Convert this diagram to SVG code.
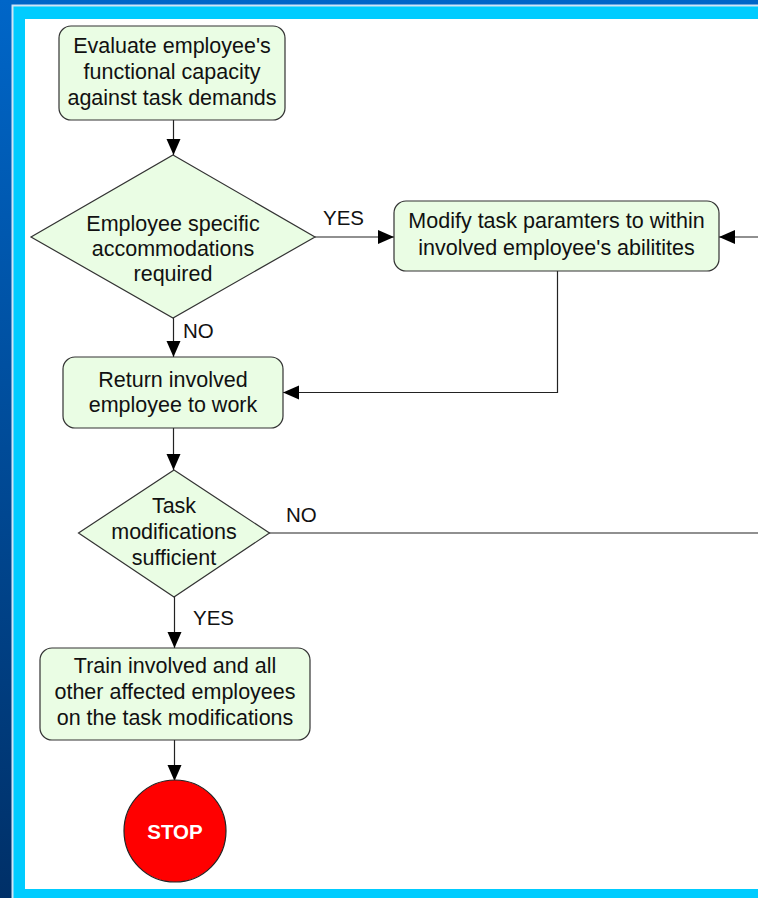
<svg xmlns="http://www.w3.org/2000/svg" width="758" height="898" viewBox="0 0 758 898">
  <defs>
    <linearGradient id="bandGrad" x1="0" y1="0" x2="0" y2="1">
      <stop offset="0" stop-color="#0066c8"/>
      <stop offset="1" stop-color="#003068"/>
    </linearGradient>
    <marker id="arrow" markerUnits="userSpaceOnUse" markerWidth="16" markerHeight="16" viewBox="0 0 16 16" refX="16" refY="8" orient="auto">
      <path d="M0,1 L16,8 L0,15 Z" fill="#000"/>
    </marker>
  </defs>
  <style>
    .box { fill: #eafde4; stroke: #333; stroke-width: 1.2; }
    .lbl { font-family: "Liberation Sans", Arial, sans-serif; font-size: 21.5px; fill: #111; text-anchor: middle; }
    .tag { font-family: "Liberation Sans", Arial, sans-serif; font-size: 20.5px; fill: #111; }
    .wire { fill: none; stroke: #222; stroke-width: 1.2; }
    .stop { fill: #ff0000; stroke: #222; stroke-width: 1.2; }
    .stoptxt { font-family: "Liberation Sans", Arial, sans-serif; font-size: 20.5px; font-weight: bold; fill: #fff; text-anchor: middle; }
  </style>

  <!-- slide frame -->
  <rect x="0" y="0" width="758" height="898" fill="url(#bandGrad)"/>
  <rect x="11.5" y="4.5" width="747" height="894" fill="#cfe6f6"/>
  <rect x="13.5" y="6.5" width="745" height="892" fill="#00ccff"/>
  <rect x="25" y="19" width="733" height="870" fill="#ffffff"/>

  <!-- connectors -->
  <g id="connectors">
    <path class="wire" d="M173.5,120 V155" marker-end="url(#arrow)"/>
    <path class="wire" d="M315,237 H394" marker-end="url(#arrow)"/>
    <path class="wire" d="M760,237 H719" marker-end="url(#arrow)"/>
    <path class="wire" d="M173.5,318 V357" marker-end="url(#arrow)"/>
    <path class="wire" d="M557.5,271 V392.5 H283" marker-end="url(#arrow)"/>
    <path class="wire" d="M173.5,428 V470" marker-end="url(#arrow)"/>
    <path class="wire" d="M269,533 H760"/>
    <path class="wire" d="M174.5,597 V648" marker-end="url(#arrow)"/>
    <path class="wire" d="M174.5,740 V781" marker-end="url(#arrow)"/>
    <text class="tag" x="323" y="225">YES</text>
    <text class="tag" x="183" y="338">NO</text>
    <text class="tag" x="286" y="522">NO</text>
    <text class="tag" x="193" y="625">YES</text>
  </g>

  <g id="evaluate">
    <rect class="box" x="59" y="26" width="226" height="94" rx="12"/>
    <text class="lbl" x="172" y="53">Evaluate employee's</text>
    <text class="lbl" x="172" y="79">functional capacity</text>
    <text class="lbl" x="172" y="105">against task demands</text>
  </g>

  <g id="accommodations">
    <polygon class="box" points="173,155 315,237 173,318 31,237"/>
    <text class="lbl" x="173" y="231">Employee specific</text>
    <text class="lbl" x="173" y="256">accommodations</text>
    <text class="lbl" x="173" y="281">required</text>
  </g>

  <g id="modify">
    <rect class="box" x="394" y="201" width="325" height="70" rx="12"/>
    <text class="lbl" x="556.5" y="228">Modify task paramters to within</text>
    <text class="lbl" x="556.5" y="255">involved employee's abilitites</text>
  </g>

  <g id="return">
    <rect class="box" x="63" y="357" width="220" height="71" rx="12"/>
    <text class="lbl" x="173" y="387">Return involved</text>
    <text class="lbl" x="173" y="412">employee to work</text>
  </g>

  <g id="sufficient">
    <polygon class="box" points="174,470 269.5,533 174,597 78.5,533"/>
    <text class="lbl" x="174" y="513">Task</text>
    <text class="lbl" x="174" y="539">modifications</text>
    <text class="lbl" x="174" y="565">sufficient</text>
  </g>

  <g id="train">
    <rect class="box" x="40" y="648" width="270" height="92" rx="12"/>
    <text class="lbl" x="175" y="673">Train involved and all</text>
    <text class="lbl" x="175" y="699">other affected employees</text>
    <text class="lbl" x="175" y="725">on the task modifications</text>
  </g>

  <g id="stop">
    <circle class="stop" cx="175" cy="831" r="51"/>
    <text class="stoptxt" x="175" y="838.5">STOP</text>
  </g>
</svg>
